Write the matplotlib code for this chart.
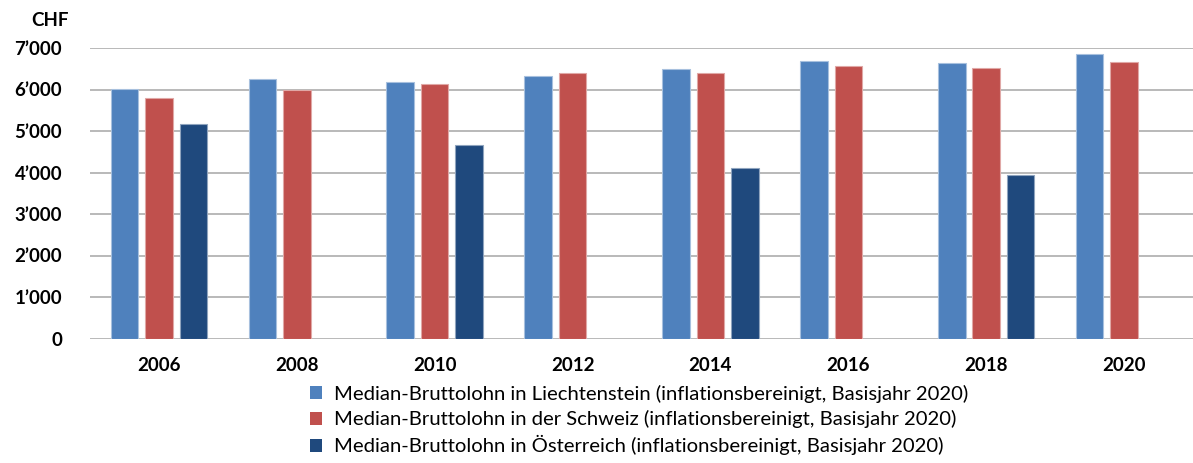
import matplotlib
matplotlib.use("Agg")
import matplotlib.pyplot as plt
import numpy as np
from matplotlib.ticker import FuncFormatter
from matplotlib.patches import Patch

years = ["2006", "2008", "2010", "2012", "2014", "2016", "2018", "2020"]
liechtenstein = [6020, 6250, 6190, 6330, 6490, 6680, 6650, 6850]
schweiz = [5800, 5995, 6130, 6400, 6400, 6575, 6520, 6660]
oesterreich = [5175, np.nan, 4655, np.nan, 4100, np.nan, 3940, np.nan]
labels = [
    "Median-Bruttolohn in Liechtenstein (inflationsbereinigt, Basisjahr 2020)",
    "Median-Bruttolohn in der Schweiz (inflationsbereinigt, Basisjahr 2020)",
    "Median-Bruttolohn in Österreich (inflationsbereinigt, Basisjahr 2020)",
]
colors = ["#4F81BD", "#C0504D", "#1F497D"]
edges = ["#A7C0DE", "#E0A8A6", "#8FA4BE"]

plt.rcParams['font.family'] = ['Lato', 'DejaVu Sans']

fig = plt.figure(figsize=(11.93, 4.63), dpi=100)
ax = fig.add_axes([90/1193, 1 - 338.5/463, 1 - 90/1193, (338.5-48)/463])

x = np.arange(len(years))
w = 0.2
step = 0.25
for i, (vals, c, e) in enumerate(zip([liechtenstein, schweiz, oesterreich], colors, edges)):
    ax.bar(x + (i - 1) * step, vals, width=w, color=c, edgecolor=e, linewidth=0.8, zorder=3)

ax.set_xlim(-0.5, len(years) - 0.5)
ax.set_ylim(0, 7000)
ax.set_yticks(range(0, 7001, 1000))
ax.yaxis.set_major_formatter(FuncFormatter(lambda v, p: "0" if v == 0 else f"{int(v)//1000}\u2019{int(v)%1000:03d}"))
ax.set_xticks(x)
ax.set_xticklabels(years)
for lab in ax.get_xticklabels() + ax.get_yticklabels():
    lab.set_fontweight("bold")
    lab.set_fontsize(13.5)
ax.tick_params(axis="both", length=0)
ax.tick_params(axis="y", pad=20)
ax.tick_params(axis="x", pad=13)
ax.grid(axis="y", color="#ADADAD", linewidth=1.2, zorder=0)
for s in ax.spines.values():
    s.set_visible(False)

fig.text(50/1193, 1 - 20/463, "CHF", fontsize=13.5, fontweight="bold", ha="center", va="center")

handles = [Patch(facecolor=c, edgecolor="none") for c in colors]
fig.legend(handles, labels, loc="upper left", bbox_to_anchor=(310/1193, 1 - 385/463),
           frameon=False, fontsize=14.6, handlelength=0.6, handleheight=0.6,
           handletextpad=0.6, labelspacing=0.35, borderpad=0, borderaxespad=0)

fig.savefig("out.png", dpi=100)
